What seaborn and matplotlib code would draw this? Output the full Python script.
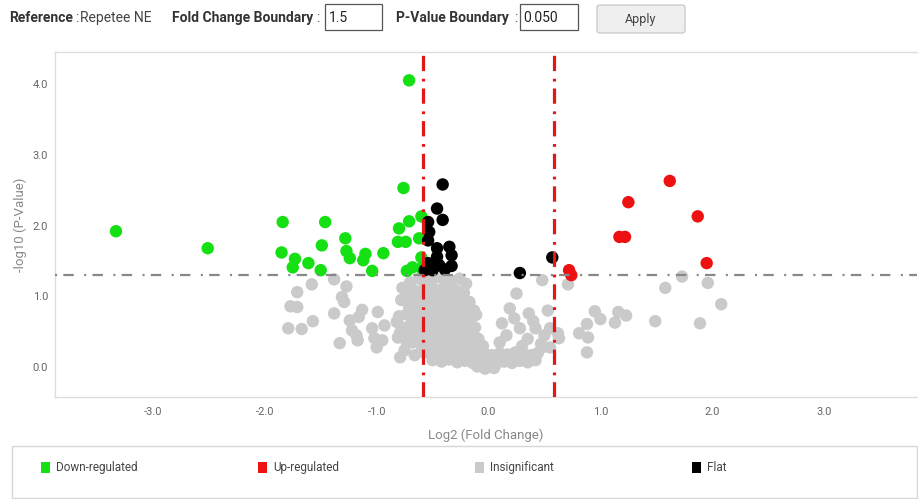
import matplotlib
matplotlib.use("Agg")
import matplotlib.pyplot as plt
import seaborn as sns
import pandas as pd
import numpy as np
from matplotlib.patches import Rectangle, FancyBboxPatch

# ---------------- data ----------------
down_x = [-3.33, -2.51, -0.71, -0.76, -1.84, -1.46, -1.85, -1.73, -1.75, -1.61, -1.49, -1.50,
          -1.28, -1.27, -1.24, -1.10, -1.12, -1.04, -0.94, -0.80, -0.81, -0.74, -0.71, -0.60,
          -0.62, -0.73, -0.68, -0.60, -0.60]
down_y = [1.92, 1.68, 4.05, 2.53, 2.05, 2.05, 1.62, 1.53, 1.41, 1.47, 1.72, 1.37,
          1.82, 1.64, 1.54, 1.60, 1.51, 1.36, 1.61, 1.96, 1.77, 1.77, 2.06, 2.13,
          1.82, 1.36, 1.41, 1.55, 1.40]

up_x = [1.62, 1.25, 1.87, 1.17, 1.22, 1.95, 0.72, 0.74]
up_y = [2.63, 2.33, 2.13, 1.84, 1.84, 1.47, 1.37, 1.30]

flat_x = [-0.41, -0.46, -0.41, -0.54, -0.53, -0.54, -0.46, -0.35, -0.33, -0.46, -0.54, -0.44,
          -0.33, -0.57, -0.50, -0.39, 0.28, 0.57]
flat_y = [2.58, 2.24, 2.08, 2.05, 1.91, 1.79, 1.68, 1.70, 1.58, 1.56, 1.47, 1.44,
          1.43, 1.37, 1.37, 1.38, 1.33, 1.55]

insig_x = [
    # left scattered
    -1.58, -1.71, -1.77, -1.71, -1.79, -1.67, -1.57, -1.38, -1.27, -1.31, -1.29, -1.38, -1.13,
    -1.16, -1.24, -1.22, -1.18, -1.17, -1.33, -0.99, -0.93, -1.04, -1.02, -1.00, -0.95, -0.79,
    -0.82, -0.77, -0.81, -0.73, -0.75, -0.71, -0.73, -0.71, -0.66, -0.64, -0.66,
    # central mass
    -0.77, -0.70, -0.62, -0.55, -0.48, -0.40, -0.33, -0.26, -0.20, -0.66, -0.58, -0.50, -0.43,
    -0.36, -0.29, -0.22,
    -0.78, -0.72, -0.64, -0.57, -0.50, -0.44, -0.38, -0.31, -0.24, -0.17, -0.69, -0.61, -0.54,
    -0.47, -0.40, -0.33, -0.27, -0.19, -0.13,
    -0.80, -0.73, -0.66, -0.59, -0.52, -0.45, -0.38, -0.31, -0.24, -0.16, -0.11, -0.70, -0.62,
    -0.55, -0.48, -0.41, -0.34, -0.27, -0.20, -0.12,
    -0.79, -0.72, -0.65, -0.58, -0.51, -0.44, -0.37, -0.30, -0.23, -0.15, -0.09, -0.68, -0.61,
    -0.54, -0.47, -0.40, -0.33, -0.26, -0.19, -0.12, -0.05,
    -0.60, -0.53, -0.46, -0.39, -0.32, -0.25, -0.18, -0.11, -0.04, 0.03, 0.10, 0.17, 0.24,
    0.31, 0.38, 0.44, -0.50, -0.42, -0.35, -0.28, -0.21, -0.14, -0.07, 0.00, 0.07, 0.14,
    0.21, 0.28, 0.35, 0.42, -0.03, 0.05, -0.10,
    # right cluster
    0.25, 0.19, 0.36, 0.23, 0.48, 0.53, 0.10, 0.16, 0.28, 0.35, 0.42, 0.50, 0.30, 0.47, 0.55,
    0.55, 0.40, 0.12,
    # right scattered
    0.71, 1.73, 1.96, 1.58, 2.08, 0.95, 1.00, 1.16, 1.23, 1.13, 1.49, 1.89, 0.88, 0.81, 0.89,
    0.88, 0.62, 0.63, 0.48,
]
insig_y = [
    1.17, 1.06, 0.86, 0.85, 0.55, 0.54, 0.65, 1.24, 1.14, 0.99, 0.92, 0.76, 0.81,
    0.71, 0.66, 0.52, 0.45, 0.38, 0.34, 0.78, 0.59, 0.55, 0.41, 0.28, 0.38, 0.14,
    0.64, 0.56, 0.42, 0.35, 0.24, 0.85, 1.05, 1.16, 0.76, 0.49, 0.17,
    1.12, 1.20, 1.25, 1.22, 1.26, 1.24, 1.22, 1.25, 1.18, 1.08, 1.10, 1.12, 1.09,
    1.11, 1.08, 1.05,
    0.95, 0.98, 0.96, 0.98, 0.97, 0.95, 0.98, 0.96, 0.94, 0.92, 0.86, 0.84, 0.86,
    0.84, 0.86, 0.83, 0.85, 0.82, 0.80,
    0.72, 0.75, 0.70, 0.73, 0.71, 0.74, 0.71, 0.73, 0.70, 0.68, 0.74, 0.60, 0.58,
    0.61, 0.59, 0.61, 0.58, 0.60, 0.57, 0.56,
    0.49, 0.46, 0.48, 0.45, 0.48, 0.46, 0.48, 0.45, 0.47, 0.44, 0.40, 0.35, 0.33,
    0.36, 0.33, 0.35, 0.32, 0.35, 0.33, 0.31, 0.30,
    0.22, 0.20, 0.23, 0.20, 0.22, 0.19, 0.21, 0.18, 0.20, 0.17, 0.20, 0.18, 0.21,
    0.19, 0.17, 0.20, 0.10, 0.08, 0.11, 0.07, 0.09, 0.06, 0.08, 0.03, 0.05, 0.08,
    0.06, 0.09, 0.07, 0.10, -0.02, -0.01, 0.01,
    1.04, 0.83, 0.76, 0.69, 1.23, 0.80, 0.35, 0.45, 0.55, 0.40, 0.55, 0.45, 0.30, 0.33, 0.28,
    0.55, 0.65, 0.62,
    1.17, 1.28, 1.19, 1.12, 0.89, 0.79, 0.68, 0.78, 0.73, 0.63, 0.65, 0.62, 0.61, 0.48, 0.42,
    0.21, 0.48, 0.41, 0.28,
]

categories = ["Insignificant", "Down-regulated", "Flat", "Up-regulated"]
legend_order = ["Down-regulated", "Up-regulated", "Insignificant", "Flat"]
colors = {"Down-regulated": "#14e014", "Up-regulated": "#ee1111",
          "Insignificant": "#cacaca", "Flat": "#000000"}

x_ticks = [-3.0, -2.0, -1.0, 0.0, 1.0, 2.0, 3.0]
x_tick_labels = ["-3.0", "-2.0", "-1.0", "0.0", "1.0", "2.0", "3.0"]
y_ticks = [0.0, 1.0, 2.0, 3.0, 4.0]
y_tick_labels = ["0.0", "1.0", "2.0", "3.0", "4.0"]

fc_boundary = 1.5
p_boundary = 0.050

# ---------------- frame ----------------
series = {"Insignificant": (insig_x, insig_y), "Down-regulated": (down_x, down_y),
          "Flat": (flat_x, flat_y), "Up-regulated": (up_x, up_y)}
rows = []
for cat in categories:
    xs, ys = series[cat]
    for a, b in zip(xs, ys):
        rows.append({"log2fc": a, "nlog10p": b, "group": cat})
df = pd.DataFrame(rows)

sns.set_theme(style="white")
plt.rcParams["font.family"] = ["Roboto", "DejaVu Sans"]
plt.rcParams["lines.scale_dashes"] = False

W, H = 918, 499
fig = plt.figure(figsize=(W / 100, H / 100), dpi=100)
fig.patch.set_facecolor("white")

def fx(px):
    return px / W

def fy(py):
    return 1 - py / H

ax = fig.add_axes([fx(55), fy(397), fx(917) - fx(55), fy(52) - fy(397)])
sns.scatterplot(data=df, x="log2fc", y="nlog10p", hue="group", palette=colors,
                hue_order=legend_order, s=80, linewidth=0, legend=False, ax=ax, zorder=2)

thr_x = float(np.log2(fc_boundary))
thr_y = float(-np.log10(p_boundary))
ax.axhline(thr_y, color="#888888", lw=1.6, dashes=(1.5, 4.5, 7.5, 7.5), zorder=3)
for v in (-thr_x, thr_x):
    ax.axvline(v, color="#e01818", lw=2.3, dashes=(11, 5, 2, 5.5), zorder=4)

ax.set_xlim(-3.875, 3.83)
ax.set_ylim(-0.42, 4.45)
ax.set_xticks(x_ticks)
ax.set_xticklabels(x_tick_labels)
ax.set_yticks(y_ticks)
ax.set_yticklabels(y_tick_labels)
ax.tick_params(axis="both", length=0, labelsize=8, colors="#666666")
ax.tick_params(axis="x", pad=7)
ax.tick_params(axis="y", pad=5)
ax.set_xlabel("Log2 (Fold Change)", fontsize=9.5, color="#888888")
ax.set_ylabel("-log10 (P-Value)", fontsize=9.5, color="#888888")
ax.xaxis.set_label_coords(0.5, -(429 - 397) / 345)
ax.yaxis.set_label_coords(-(55 - 27) / 862, 0.5)
for side in ("left", "top", "bottom"):
    ax.spines[side].set_color("#dddddd")
    ax.spines[side].set_linewidth(1)
ax.spines["right"].set_visible(False)
ax.grid(False)

# ---------------- legend box ----------------
fig.add_artist(Rectangle((fx(12), fy(498)), fx(917) - fx(12), fy(446) - fy(498),
                         transform=fig.transFigure, facecolor="white",
                         edgecolor="#d6d6d6", lw=1))
leg_x = [41, 258, 475, 692]
for cat, lx in zip(legend_order, leg_x):
    fig.add_artist(Rectangle((fx(lx), fy(473)), fx(9), 11 / H, transform=fig.transFigure,
                             facecolor=colors[cat], edgecolor="none"))
    fig.text(fx(lx + 15), fy(467.5), cat, fontsize=8.5, color="#444444",
             ha="left", va="center")

# ---------------- header ----------------
hb = fy(22)
fig.text(fx(9), hb, "Reference", fontsize=10, fontweight="bold", color="#333333", va="baseline")
fig.text(fx(75), hb, ":", fontsize=10, color="#555555", va="baseline")
fig.text(fx(80), hb, "Repetee NE", fontsize=10, color="#444444", va="baseline")
fig.text(fx(172), hb, "Fold Change Boundary", fontsize=10, fontweight="bold",
         color="#333333", va="baseline")
fig.text(fx(316), hb, ":", fontsize=10, color="#555555", va="baseline")
fig.add_artist(Rectangle((fx(325), fy(30)), fx(57), 26 / H, transform=fig.transFigure,
                         facecolor="white", edgecolor="#555555", lw=0.9))
fig.text(fx(329), hb, "1.5", fontsize=10, color="#222222", va="baseline")
fig.text(fx(396), hb, "P-Value Boundary", fontsize=10, fontweight="bold",
         color="#333333", va="baseline")
fig.text(fx(514), hb, ":", fontsize=10, color="#555555", va="baseline")
fig.add_artist(Rectangle((fx(520), fy(30)), fx(58), 26 / H, transform=fig.transFigure,
                         facecolor="white", edgecolor="#555555", lw=0.9))
fig.text(fx(523), hb, "0.050", fontsize=10, color="#222222", va="baseline")
fig.add_artist(FancyBboxPatch((fx(597), fy(33)), fx(88), 28 / H,
                              boxstyle="round,pad=0,rounding_size=0.004",
                              transform=fig.transFigure, facecolor="#efefef",
                              edgecolor="#c8c8c8", lw=0.9))
fig.text(fx(641), fy(23), "Apply", fontsize=9, color="#444444", ha="center", va="baseline")

fig.savefig("out.png", dpi=100, facecolor="white")
